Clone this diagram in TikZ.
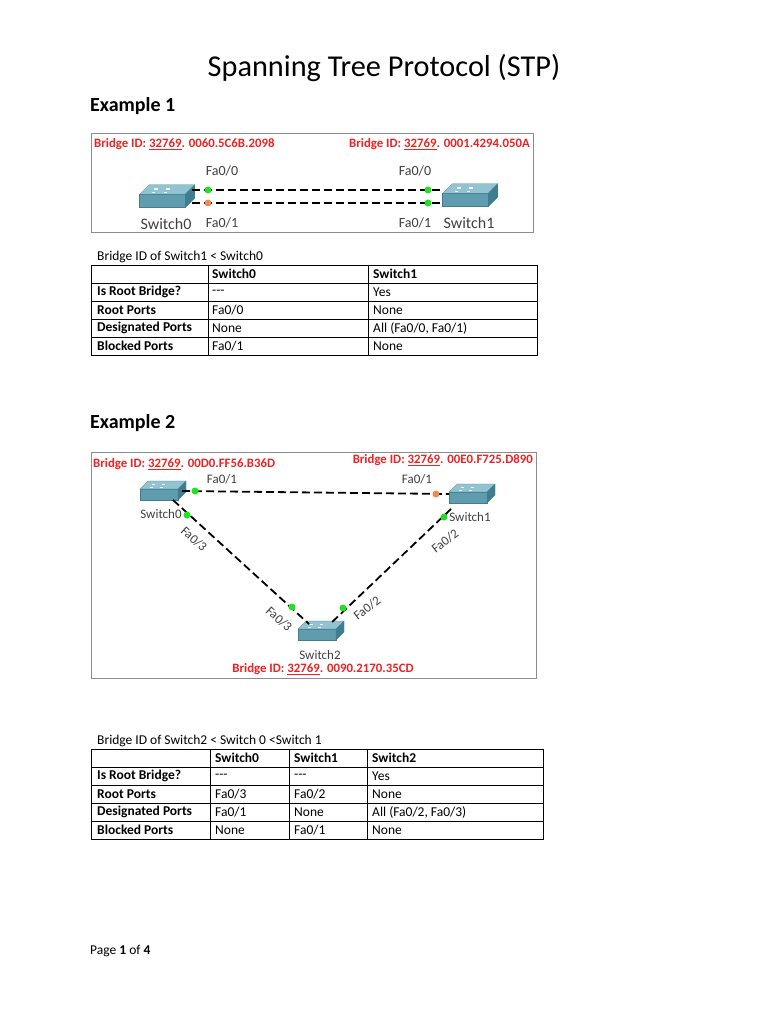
\documentclass[tikz,border=0pt]{standalone}
\usepackage{fontspec}
\setmainfont{Carlito}
\begin{document}
\begin{tikzpicture}[x=1pt,y=-1pt,
  sw/.pic={
    \fill[fill=swfront,draw=swdark,line width=0.3pt] (-22,-3) rectangle (16,8);
    \fill[fill=swtop,draw=swdark,line width=0.3pt] (-22,-3)--(-14,-11)--(24,-11)--(16,-3)--cycle;
    \fill[fill=swdark,draw=swdark,line width=0.3pt] (16,-3)--(24,-11)--(24,0)--(16,8)--cycle;
    \foreach \a/\b in {-10/-8,0/-8,-12/-5,-2/-5}{\fill[white!85!swtop] (\a,\b) rectangle ++(3,1);}
  },
  lnk/.style={line width=2.2pt,dash pattern=on 8pt off 4pt},
  gdot/.style={circle,fill=pgreen,inner sep=0pt,minimum size=7pt},
  odot/.style={circle,fill=porange,inner sep=0pt,minimum size=7pt},
  lbl/.style={font=\fontsize{13}{15}\selectfont,text=black!75,inner sep=0pt},
  bid/.style={font=\bfseries\fontsize{12.8}{15}\selectfont,text=bidred,inner sep=0pt},
  cell/.style={font=\fontsize{13.5}{16}\selectfont,anchor=west,inner sep=0pt},
  hcell/.style={font=\bfseries\fontsize{13.5}{16}\selectfont,anchor=west,inner sep=0pt},
  frame/.style={draw=black!45,line width=0.6pt}
]
\definecolor{swfront}{HTML}{5E9CAE}
\definecolor{swtop}{HTML}{93C3D1}
\definecolor{swdark}{HTML}{3F7E91}
\definecolor{pgreen}{HTML}{22E022}
\definecolor{porange}{HTML}{F08A50}
\definecolor{bidred}{HTML}{EE2222}
\useasboundingbox[fill=white] (0,0) rectangle (768,1024);

\node[font=\fontsize{30.3}{34}\selectfont] (title) at (384,68) {Spanning Tree Protocol (STP)};
\node[font=\bfseries\fontsize{20}{24}\selectfont,anchor=west,inner sep=0pt] (ex1) at (90,106) {Example 1};

% Example 1 figure
\draw[frame] (91,133) rectangle (533,232);
\node[bid,anchor=west] (b0) at (94,144) {Bridge ID: \underline{32769}. 0060.5C6B.2098};
\node[bid,anchor=east] (b1) at (530,144) {Bridge ID: \underline{32769}. 0001.4294.050A};
\pic[scale=1.2] at (166,198) {sw};
\pic[scale=1.2] at (469,197) {sw};
\coordinate (s0a) at (192,190); \coordinate (s0b) at (192,203);
\coordinate (s1a) at (443,190); \coordinate (s1b) at (443,203);
\draw[lnk] (s0a) -- (s1a);
\draw[lnk] (s0b) -- (s1b);
\node[gdot] (d1) at (208,190) {}; \node[odot] (d2) at (208,203) {};
\node[gdot] (d3) at (428,190) {}; \node[gdot] (d4) at (428,203) {};
\node[lbl,font=\fontsize{14}{16}\selectfont] (l1) at (222,171) {Fa0/0};
\node[lbl,font=\fontsize{14}{16}\selectfont] (l2) at (415,171) {Fa0/0};
\node[lbl,font=\fontsize{14}{16}\selectfont] (l3) at (222,223) {Fa0/1};
\node[lbl,font=\fontsize{14}{16}\selectfont] (l4) at (415,223) {Fa0/1};
\node[lbl,font=\fontsize{16}{18}\selectfont] (n0) at (166,224) {Switch0};
\node[lbl,font=\fontsize{16}{18}\selectfont] (n1) at (469,223) {Switch1};

% Table 1
\node[cell] (t1cap) at (97,257) {Bridge ID of Switch1 < Switch0};
\draw[line width=0.5pt] (91,265) rectangle (537,355);
\foreach \y in {283,301,319,337} \draw[line width=0.5pt] (91,\y) -- (537,\y);
\foreach \x in {208,368} \draw[line width=0.5pt] (\x,265) -- (\x,355);
\node[hcell] at (212,274) {Switch0};
\node[hcell] at (373,274) {Switch1};
\node[hcell] at (97,292) {Is Root Bridge?};
\node[hcell] at (97,310) {Root Ports};
\node[hcell] at (97,328) {Designated Ports};
\node[hcell] at (97,346) {Blocked Ports};
\node[cell] at (212,292) {-{}-{}-};
\node[cell] at (212,310) {Fa0/0};
\node[cell] at (212,328) {None};
\node[cell] at (212,346) {Fa0/1};
\node[cell] at (373,292) {Yes};
\node[cell] at (373,310) {None};
\node[cell] at (373,328) {All (Fa0/0, Fa0/1)};
\node[cell] at (373,346) {None};

\node[font=\bfseries\fontsize{20}{24}\selectfont,anchor=west,inner sep=0pt] (ex2) at (90,423) {Example 2};

% Example 2 figure
\draw[frame] (91,452) rectangle (536,678);
\node[bid,anchor=west] (c0) at (93,464) {Bridge ID: \underline{32769}. 00D0.FF56.B36D};
\node[bid,anchor=east] (c1) at (533,460) {Bridge ID: \underline{32769}. 00E0.F725.D890};
\node[bid] (c2) at (323,669) {Bridge ID: \underline{32769}. 0090.2170.35CD};
\pic at (162,492) {sw};
\pic at (471,495) {sw};
\pic at (320,632) {sw};
\coordinate (p01) at (182,491); \coordinate (p10) at (449,494);
\coordinate (p03) at (173,500); \coordinate (p23) at (309,624);
\coordinate (p12) at (451,509); \coordinate (p21) at (330,624);
\draw[lnk,line width=1.8pt] (p01) -- (p10);
\draw[lnk,line width=1.8pt] (p03) -- (p23);
\draw[lnk,line width=1.8pt] (p12) -- (p21);
\node[gdot] at (195,491) {}; \node[odot] at (436,494) {};
\node[gdot] at (187,515) {}; \node[gdot] at (444,517) {};
\node[gdot] at (292,607) {}; \node[gdot] at (343,608) {};
\node[lbl] at (222,479) {Fa0/1};
\node[lbl] at (417,479) {Fa0/1};
\node[lbl] at (161,514) {Switch0};
\node[lbl] at (470,517) {Switch1};
\node[lbl] at (320,655) {Switch2};
\node[lbl,rotate=-42] at (194,539) {Fa0/3};
\node[lbl,rotate=-42] at (279,619) {Fa0/3};
\node[lbl,rotate=38] at (445,541) {Fa0/2};
\node[lbl,rotate=38] at (367,608) {Fa0/2};

% Table 2
\node[cell] (t2cap) at (97,741) {Bridge ID of Switch2 < Switch 0 <Switch 1};
\draw[line width=0.5pt] (91,749) rectangle (543,839);
\foreach \y in {767,785,803,821} \draw[line width=0.5pt] (91,\y) -- (543,\y);
\foreach \x in {210,289,367} \draw[line width=0.5pt] (\x,749) -- (\x,839);
\node[hcell] at (215,758) {Switch0};
\node[hcell] at (294,758) {Switch1};
\node[hcell] at (372,758) {Switch2};
\node[hcell] at (97,776) {Is Root Bridge?};
\node[hcell] at (97,794) {Root Ports};
\node[hcell] at (97,812) {Designated Ports};
\node[hcell] at (97,830) {Blocked Ports};
\node[cell] at (215,776) {-{}-{}-};
\node[cell] at (215,794) {Fa0/3};
\node[cell] at (215,812) {Fa0/1};
\node[cell] at (215,830) {None};
\node[cell] at (294,776) {-{}-{}-};
\node[cell] at (294,794) {Fa0/2};
\node[cell] at (294,812) {None};
\node[cell] at (294,830) {Fa0/1};
\node[cell] at (372,776) {Yes};
\node[cell] at (372,794) {None};
\node[cell] at (372,812) {All (Fa0/2, Fa0/3)};
\node[cell] at (372,830) {None};

\node[cell] (page) at (90,951) {Page \textbf{1} of \textbf{4}};
\end{tikzpicture}
\end{document}
